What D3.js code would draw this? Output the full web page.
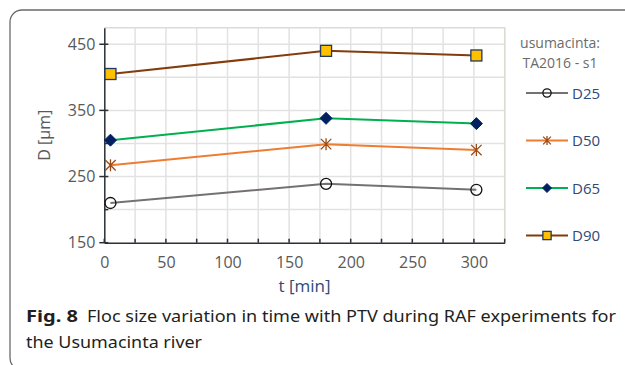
<!DOCTYPE html>
<html>
<head>
<meta charset="utf-8">
<script src="https://cdn.jsdelivr.net/npm/d3@7"></script>
<style>
  body { margin: 0; background: #fff; }
  svg { display: block; font-family: "Open Sans", "Noto Sans", sans-serif; }
</style>
</head>
<body>
<div class="chart"></div>
<script>
// sampling times (min) and floc size deciles (µm)
var times = [5, 180, 302]
var d25 = [210, 239, 230]
var d50 = [267, 299, 290]
var d65 = [305, 338, 330]
var d90 = [405, 440, 433]

var seriesNames = ['D25', 'D50', 'D65', 'D90']
var seriesValues = [d25, d50, d65, d90]

var xTicks = [0, 50, 100, 150, 200, 250, 300]
var yTicks = [150, 250, 350, 450]
var legendTitle = ['usumacinta:', 'TA2016 - s1']
var captionBold = 'Fig. 8'
var captionLines = ['Floc size variation in time with PTV during RAF experiments for', 'the Usumacinta river']

var style = {
  D25: {line: '#767171', marker: 'circle', fill: 'none', stroke: '#111'},
  D50: {line: '#ed7d31', marker: 'star', fill: 'none', stroke: '#9a4a17'},
  D65: {line: '#00b050', marker: 'diamond', fill: '#002060', stroke: '#002060'},
  D90: {line: '#843c0c', marker: 'square', fill: '#ffc000', stroke: '#1f3864'}
}

var W = 625, H = 365
var svg = d3.select('.chart').append('svg').attr('width', W).attr('height', H)

// figure frame (rounded, cut by the page edge)
svg.append('rect')
  .attr('x', 10).attr('y', 10).attr('width', 650).attr('height', 360)
  .attr('rx', 12).attr('fill', 'none').attr('stroke', '#6b6b6b').attr('stroke-width', 1.3)

var plot = {left: 104.3, right: 504.7, top: 27.7, bottom: 242.7}
var x = d3.scaleLinear().domain([0, 325]).range([plot.left, plot.right])
var y = d3.scaleLinear().domain([150, 475]).range([plot.bottom, plot.top])

var g = svg.append('g')

// gridlines
g.append('g').selectAll('line').data(d3.range(25, 326, 25)).join('line')
  .attr('x1', x).attr('x2', x).attr('y1', plot.top).attr('y2', plot.bottom)
  .attr('stroke', '#e2e2e2').attr('stroke-width', 1.5)
g.append('g').selectAll('line').data(d3.range(200, 476, 50)).join('line')
  .attr('x1', plot.left).attr('x2', plot.right).attr('y1', y).attr('y2', y)
  .attr('stroke', '#e2e2e2').attr('stroke-width', 1.5)
// plot border top/right
g.append('path')
  .attr('d', 'M' + plot.left + ',' + plot.top + 'H' + plot.right + 'V' + plot.bottom)
  .attr('fill', 'none').attr('stroke', '#d9ddd3').attr('stroke-width', 1.5)

// axes
var axisColor = '#2b2f36'
var xAxis = d3.axisBottom(x).tickValues(xTicks).tickSize(0).tickPadding(9.5).tickFormat(d3.format('d'))
var yAxis = d3.axisLeft(y).tickValues(yTicks).tickSize(0).tickPadding(9)

var xg = g.append('g').attr('transform', 'translate(0,' + plot.bottom + ')').call(xAxis)
var yg = g.append('g').attr('transform', 'translate(' + plot.left + ',0)').call(yAxis)
;[xg, yg].forEach(function(a){
  a.select('.domain').attr('stroke', axisColor).attr('stroke-width', 1.5)
  a.selectAll('text').attr('font-size', 16).attr('fill', '#595959')
    .attr('font-family', '"Open Sans", sans-serif')
})
xg.selectAll('text').attr('dy', '1em')

// tick marks: x inside every 25, y major crossing / minor inside
g.append('g').selectAll('line').data(d3.range(0, 326, 25)).join('line')
  .attr('x1', x).attr('x2', x).attr('y1', plot.bottom).attr('y2', plot.bottom - 4)
  .attr('stroke', axisColor).attr('stroke-width', 1.5)
g.append('g').selectAll('line').data(d3.range(150, 476, 50)).join('line')
  .attr('x1', function(d){ return yTicks.indexOf(d) >= 0 ? plot.left - 5 : plot.left })
  .attr('x2', plot.left + 4).attr('y1', y).attr('y2', y)
  .attr('stroke', axisColor).attr('stroke-width', 1.5)

// axis titles
svg.append('text').text('D [µm]')
  .attr('transform', 'translate(50,' + ((plot.top + plot.bottom) / 2) + ') rotate(-90)')
  .attr('text-anchor', 'middle').attr('font-size', 16).attr('fill', '#595959')
svg.append('text').text('t [min]')
  .attr('x', (plot.left + plot.right) / 2).attr('y', 292)
  .attr('text-anchor', 'middle').attr('font-size', 17).attr('fill', '#2f4a78')

function drawMarker(sel, kind, cx, cy, s, st){
  if (kind == 'circle'){
    sel.append('circle').attr('cx', cx).attr('cy', cy).attr('r', 5.5 * s)
      .attr('fill', '#fff').attr('fill-opacity', 0).attr('stroke', st.stroke).attr('stroke-width', 1.3)
  } else if (kind == 'star'){
    var r = 6 * s, q = r * 0.87
    sel.append('path')
      .attr('d', 'M' + cx + ',' + (cy - r) + 'V' + (cy + r) +
        'M' + (cx - q) + ',' + (cy - q) + 'L' + (cx + q) + ',' + (cy + q) +
        'M' + (cx - q) + ',' + (cy + q) + 'L' + (cx + q) + ',' + (cy - q))
      .attr('stroke', st.stroke).attr('stroke-width', 1.3).attr('fill', 'none')
  } else if (kind == 'diamond'){
    var r2 = 6 * s
    sel.append('path')
      .attr('d', 'M' + cx + ',' + (cy - r2) + 'L' + (cx + r2) + ',' + cy + 'L' + cx + ',' + (cy + r2) + 'L' + (cx - r2) + ',' + cy + 'Z')
      .attr('fill', st.fill).attr('stroke', st.stroke)
  } else {
    var h = 5.5 * s
    sel.append('rect').attr('x', cx - h).attr('y', cy - h).attr('width', 2 * h).attr('height', 2 * h)
      .attr('fill', st.fill).attr('stroke', st.stroke).attr('stroke-width', 1.3)
  }
}

// series
var line = d3.line().x(function(d){ return x(d[0]) }).y(function(d){ return y(d[1]) })
seriesNames.forEach(function(name, i){
  var st = style[name]
  var pts = times.map(function(t, j){ return [t, seriesValues[i][j]] })
  var sg = g.append('g')
  sg.append('path').attr('d', line(pts)).attr('fill', 'none')
    .attr('stroke', st.line).attr('stroke-width', 2)
  pts.forEach(function(p){ drawMarker(sg, st.marker, x(p[0]), y(p[1]), 1, st) })
})

// legend
var lg = svg.append('g')
legendTitle.forEach(function(t, i){
  lg.append('text').text(t).attr('x', 560).attr('y', 48 + i * 19.5)
    .attr('text-anchor', 'middle').attr('font-size', 14).attr('fill', '#6b6b6b')
})
var legendY = d3.scalePoint().domain(seriesNames).range([93, 235.5])
seriesNames.forEach(function(name){
  var st = style[name]
  var ly = legendY(name)
  lg.append('line').attr('x1', 526).attr('x2', 568).attr('y1', ly).attr('y2', ly)
    .attr('stroke', st.line).attr('stroke-width', 2)
  drawMarker(lg, st.marker, 547, ly, 0.75, st)
  lg.append('text').text(name).attr('x', 572).attr('y', ly + 5.5)
    .attr('font-size', 15).attr('fill', '#2f4a78')
})

// caption
var cap = svg.append('g').attr('fill', '#231f20').attr('font-family', '"Noto Sans", "Open Sans", sans-serif')
cap.append('text').text(captionBold).attr('x', 26).attr('y', 322)
  .attr('font-size', 16.5).attr('font-weight', 700)
  .attr('textLength', 52).attr('lengthAdjust', 'spacingAndGlyphs')
cap.append('text').text(captionLines[0]).attr('x', 87).attr('y', 322)
  .attr('font-size', 16.5).attr('textLength', 529).attr('lengthAdjust', 'spacingAndGlyphs')
cap.append('text').text(captionLines[1]).attr('x', 26).attr('y', 348)
  .attr('font-size', 16.5).attr('textLength', 176).attr('lengthAdjust', 'spacingAndGlyphs')
</script>
</body>
</html>
